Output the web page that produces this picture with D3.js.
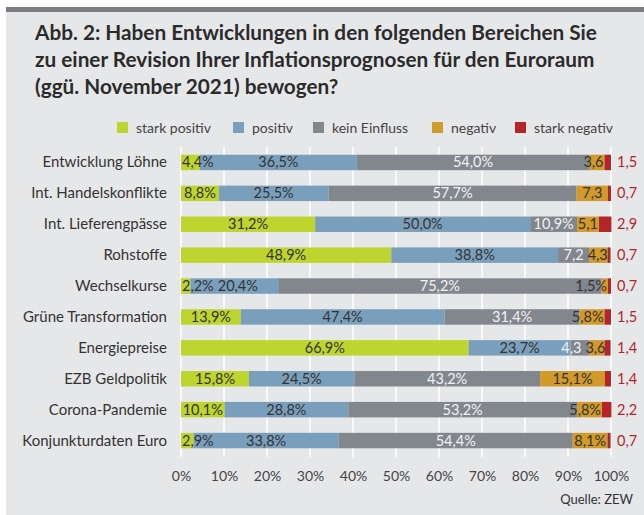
<!DOCTYPE html>
<html>
<head>
<meta charset="utf-8">
<script src="https://cdn.jsdelivr.net/npm/d3@7"></script>
<style>
  body { margin: 0; background: #fff; }
  svg text { font-family: Lato, "Open Sans", sans-serif; }
</style>
</head>
<body>
<div id="chart"></div>
<script>
const W = 644, H = 515;

const titleLines = [
    "Abb. 2: Haben Entwicklungen in den folgenden Bereichen Sie",
    "zu einer Revision Ihrer Inflationsprognosen für den Euroraum",
    "(ggü. November 2021) bewogen?"
];

const categories = ["Entwicklung Löhne", "Int. Handelskonflikte", "Int. Lieferengpässe", "Rohstoffe",
    "Wechselkurse", "Grüne Transformation", "Energiepreise", "EZB Geldpolitik", "Corona-Pandemie",
    "Konjunkturdaten Euro"];

const seriesNames = ["stark positiv", "positiv", "kein Einfluss", "negativ", "stark negativ"];
const colors = ["#bdd52e", "#7a9fbc", "#82878e", "#d19a2a", "#b3252a"];

const starkPositiv = [4.4, 8.8, 31.2, 48.9, 2.2, 13.9, 66.9, 15.8, 10.1, 2.9];
const positiv      = [36.5, 25.5, 50.0, 38.8, 20.4, 47.4, 23.7, 24.5, 28.8, 33.8];
const keinEinfluss = [54.0, 57.7, 10.9, 7.2, 75.2, 31.4, 4.3, 43.2, 53.2, 54.4];
const negativ      = [3.6, 7.3, 5.1, 4.3, 1.5, 5.8, 3.6, 15.1, 5.8, 8.1];
const starkNegativ = [1.5, 0.7, 2.9, 0.7, 0.7, 1.5, 1.4, 1.4, 2.2, 0.7];

// labels printed without "%" sign: [row, series]
const noPercent = [[0, 3], [1, 3], [2, 3], [3, 2], [3, 3], [6, 2], [6, 3]];

const ticks = [0, 10, 20, 30, 40, 50, 60, 70, 80, 90, 100];

const fmt = v => v.toFixed(1).replace(".", ",");

const data = categories.map((c, i) => ({
    name: c,
    vals: [starkPositiv[i], positiv[i], keinEinfluss[i], negativ[i], starkNegativ[i]]
}));

const svg = d3.select("#chart").append("svg")
    .attr("width", W).attr("height", H);

// panel
svg.append("rect").attr("x", 6).attr("y", 7).attr("width", W - 6).attr("height", H - 7)
    .attr("fill", "#e6e7e9");
svg.append("rect").attr("x", 6).attr("y", 7).attr("width", W - 6).attr("height", 5)
    .attr("fill", "#7b7d81");

// title, sized so the first line spans the same width as the original
const title = svg.append("g").style("font-weight", "bold").style("fill", "#2b2b2b");
title.selectAll("text")
    .data(titleLines).enter()
    .append("text")
    .attr("x", 35)
    .attr("y", (d, i) => 39.5 + i * 27)
    .style("font-size", "20px")
    .text(d => d);
const tw = title.select("text").node().getComputedTextLength();
title.selectAll("text").style("font-size", (20 * 562 / tw) + "px");

// legend
const legendX = [117, 233, 313, 432, 515];
const legend = svg.append("g").selectAll("g")
    .data(seriesNames).enter()
    .append("g")
    .attr("transform", (d, i) => `translate(${legendX[i]},122)`);
legend.append("rect").attr("width", 11).attr("height", 11).attr("fill", (d, i) => colors[i]);
legend.append("text").attr("x", 19).attr("y", 10.5)
    .style("font-size", "14px").style("fill", "#444").text(d => d);

const x = d3.scaleLinear().domain([0, 100]).range([181, 611]);
const y = d3.scaleBand().domain(categories).range([147, 456]).paddingInner(0.5).paddingOuter(0.25);

// grid
svg.append("g").selectAll("line")
    .data(ticks).enter()
    .append("line")
    .attr("x1", d => x(d)).attr("x2", d => x(d))
    .attr("y1", 147).attr("y2", 457)
    .attr("stroke", "#fff").attr("stroke-width", 1.5);

// x axis labels
const xAxis = svg.append("g")
    .attr("transform", "translate(0,458)")
    .call(d3.axisBottom(x).tickValues(ticks).tickSize(0).tickPadding(13).tickFormat(d => d + "%"));
xAxis.select(".domain").remove();
xAxis.selectAll("text").style("font-size", "14px").style("fill", "#444")
    .style("font-family", "Lato, sans-serif");

// category labels
svg.append("g").selectAll("text")
    .data(categories).enter()
    .append("text")
    .attr("x", 167)
    .attr("y", d => y(d) + y.bandwidth() / 2 + 5)
    .attr("text-anchor", "end")
    .style("font-size", "15px")
    .style("fill", "#333")
    .text(d => d);

// bars
const rows = svg.append("g").selectAll("g")
    .data(data).enter()
    .append("g")
    .attr("transform", d => `translate(0,${y(d.name)})`);

const segs = d => {
    let acc = 0;
    return d.vals.map((v, j) => {
        const s = { row: categories.indexOf(d.name), j: j, v: v, x0: acc, x1: acc + v };
        acc += v;
        return s;
    });
};

rows.selectAll("rect")
    .data(segs).enter()
    .append("rect")
    .attr("x", d => x(d.x0))
    .attr("width", d => x(d.x1) - x(d.x0))
    .attr("height", y.bandwidth())
    .attr("fill", d => colors[d.j]);

// value labels (first four series)
rows.each(function (row) {
    const g = d3.select(this);
    const items = segs(row).filter(s => s.j < 4).map(s => {
        const t = g.append("text")
            .attr("y", y.bandwidth() / 2 + 5)
            .attr("text-anchor", "start")
            .style("font-size", "14.5px")
            .style("fill", s.j === 2 ? "#f2f2f2" : "#333")
            .text(fmt(s.v) + (noPercent.some(p => p[0] === s.row && p[1] === s.j) ? "" : "%"));
        const w = t.node().getComputedTextLength();
        const a = x(s.x0), b = x(s.x1);
        let left;
        if (w + 2 <= b - a) left = (a + b) / 2 - w / 2;
        else if (s.j === 0) left = a + 1;
        else left = b - 1 - w;
        return { t, w, left, j: s.j };
    });
    // push labels apart: right to left, then left to right
    for (let k = items.length - 2; k >= 1; k--) {
        const over = items[k].left + items[k].w + 2 - items[k + 1].left;
        if (over > 0) items[k].left -= over;
    }
    for (let k = 1; k < items.length; k++) {
        const over = items[k - 1].left + items[k - 1].w + 4 - items[k].left;
        if (over > 0) items[k].left += over;
    }
    items.forEach(it => it.t.attr("x", it.left));
});

// stark negativ values to the right
rows.append("text")
    .attr("x", 617)
    .attr("y", y.bandwidth() / 2 + 5)
    .style("font-size", "14.5px")
    .style("fill", "#b3252a")
    .text(d => fmt(d.vals[4]));

// source
svg.append("text")
    .attr("x", 633).attr("y", 504)
    .attr("text-anchor", "end")
    .style("font-size", "13px")
    .style("fill", "#333")
    .text("Quelle: ZEW");
</script>
</body>
</html>
